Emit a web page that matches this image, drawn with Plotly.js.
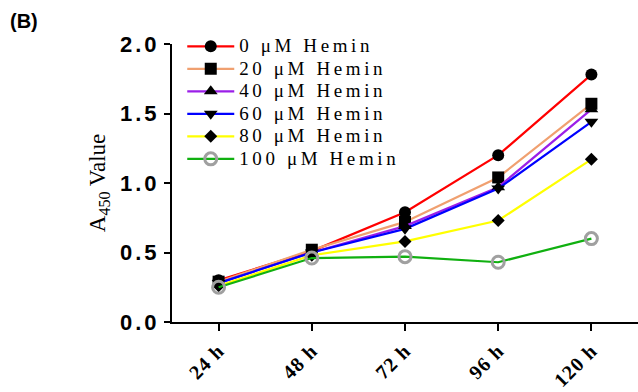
<!DOCTYPE html>
<html>
<head>
<meta charset="utf-8">
<script src="https://cdn.plot.ly/plotly-3.0.1.min.js"></script>
<style>
html,body{margin:0;padding:0;background:#fff;}
#chart{width:638px;height:392px;}
.legendtext{letter-spacing:3.6px;font-size:19px !important;}
.ytick text{letter-spacing:3px;}
.xtick text{letter-spacing:1px;}
</style>
</head>
<body>
<div id="chart"></div>
<script>
const timePoints = ["24 h", "48 h", "72 h", "96 h", "120 h"];
const seriesNames = ["0 μM Hemin", "20 μM Hemin", "40 μM Hemin", "60 μM Hemin", "80 μM Hemin", "100 μM Hemin"];
const hemin0   = [0.30, 0.51, 0.79, 1.20, 1.78];
const hemin20  = [0.29, 0.52, 0.72, 1.04, 1.57];
const hemin40  = [0.28, 0.50, 0.69, 0.97, 1.53];
const hemin60  = [0.28, 0.50, 0.67, 0.96, 1.44];
const hemin80  = [0.26, 0.48, 0.58, 0.73, 1.17];
const hemin100 = [0.25, 0.46, 0.47, 0.43, 0.60];
const seriesValues = [hemin0, hemin20, hemin40, hemin60, hemin80, hemin100];

const lineColors = ["#ff0000", "#f0a070", "#9b1fe8", "#0000ff", "#ffff00", "#10b010"];
const symbols = ["circle", "square", "triangle-up", "triangle-down", "diamond", "circle-open"];

const traces = seriesValues.map((vals, i) => {
  const last = i === 5;
  return {
    type: "scatter",
    mode: "lines+markers",
    name: seriesNames[i],
    x: timePoints,
    y: vals,
    line: {color: lineColors[i], width: 2.2},
    marker: {
      symbol: symbols[i],
      size: last ? 12 : (i === 4 ? 10 : 12),
      color: last ? "#a0a0a0" : "#000000",
      line: {color: last ? "#a0a0a0" : "#000000", width: last ? 3 : 0}
    }
  };
});

const layout = {
  width: 638,
  height: 392,
  margin: {l: 172, r: 0, t: 44, b: 70},
  paper_bgcolor: "#ffffff",
  plot_bgcolor: "#ffffff",
  showlegend: true,
  legend: {
    x: 0.022, y: 1.05, xanchor: "left", yanchor: "top",
    bgcolor: "rgba(0,0,0,0)",
    font: {family: "Liberation Serif, Times New Roman, serif", size: 15, color: "#000"},
    tracegroupgap: 0,
    itemwidth: 47
  },
  xaxis: {
    type: "category",
    range: [-0.5, 4.5],
    showline: true, linecolor: "#000", linewidth: 2,
    ticks: "outside", ticklen: 7, tickwidth: 2, tickcolor: "#000",
    tickangle: -45,
    tickfont: {family: "Liberation Serif, Times New Roman, serif", size: 20, color: "#000", weight: "bold"},
    showgrid: false, zeroline: false, fixedrange: true
  },
  yaxis: {
    range: [0, 2],
    tickvals: [0, 0.5, 1.0, 1.5, 2.0],
    ticktext: ["0.0", "0.5", "1.0", "1.5", "2.0"],
    showline: true, linecolor: "#000", linewidth: 2,
    ticks: "outside", ticklen: 6, tickwidth: 2, tickcolor: "#000",
    tickfont: {family: "Liberation Sans, Arial, sans-serif", size: 22, color: "#000", weight: "bold"},
    showgrid: false, zeroline: false,
    title: {
      text: "A<sub>450</sub> Value",
      font: {family: "Liberation Serif, Times New Roman, serif", size: 23, color: "#000"},
      standoff: 8
    }
  },
  annotations: [{
    text: "(B)", xref: "paper", yref: "paper",
    x: -0.352, y: 1.13, xanchor: "left", yanchor: "top",
    showarrow: false,
    font: {family: "Liberation Sans, Arial, sans-serif", size: 20, color: "#000", weight: "bold"}
  }]
};

Plotly.newPlot("chart", traces, layout, {displayModeBar: false, staticPlot: true});
</script>
</body>
</html>
